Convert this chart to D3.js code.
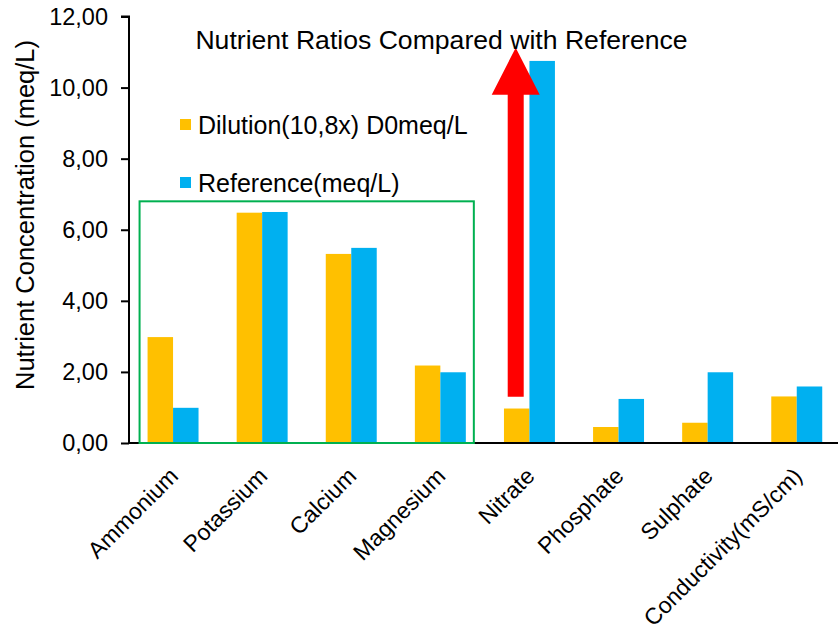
<!DOCTYPE html>
<html>
<head>
<meta charset="utf-8">
<script src="https://cdn.jsdelivr.net/npm/d3@7"></script>
<style>
  html, body { margin: 0; padding: 0; background: #fff; }
  svg { display: block; font-family: "Liberation Sans", Arial, sans-serif; }
</style>
</head>
<body>
<svg id="chart" width="838" height="630"></svg>
<script>
const categories = ["Ammonium", "Potassium", "Calcium", "Magnesium", "Nitrate", "Phosphate", "Sulphate", "Conductivity(mS/cm)"];
const seriesNames = ["Dilution(10,8x) D0meq/L", "Reference(meq/L)"];
const dilutionValues = [2.98, 6.48, 5.32, 2.18, 0.97, 0.45, 0.57, 1.31];
const referenceValues = [0.99, 6.50, 5.49, 1.99, 10.75, 1.24, 1.99, 1.59];
const yTicks = [0, 2, 4, 6, 8, 10, 12];
const chartTitle = "Nutrient Ratios Compared with Reference";
const yAxisTitle = "Nutrient Concentration (meq/L)";
// annotations (data units)
const arrowFromValue = 1.3, arrowHeadBase = 9.8, arrowToValue = 11.12;
const boxTopValue = 6.8;
const boxCategories = ["Ammonium", "Magnesium"];

const colors = ["#FFC000", "#00B0F0"];

const svg = d3.select("#chart");
const y = d3.scaleLinear().domain([0, 12]).range([443, 16.5]);
const x = d3.scaleBand().domain(categories).range([128.5, 841.3]).paddingInner(0.428).paddingOuter(0.214);
const x1 = d3.scaleBand().domain(seriesNames).range([0, x.bandwidth()]);

const rows = categories.map((c, i) => ({cat: c, vals: [dilutionValues[i], referenceValues[i]]}));

// bars
const g = svg.append("g");
rows.forEach(r => {
  r.vals.forEach((v, j) => {
    g.append("rect")
      .attr("x", x(r.cat) + x1(seriesNames[j]))
      .attr("y", y(v))
      .attr("width", x1.bandwidth())
      .attr("height", y(0) - y(v))
      .attr("fill", colors[j]);
  });
});

// y axis
const yAxis = d3.axisLeft(y).tickValues(yTicks).tickSize(8).tickPadding(13)
  .tickFormat(d => d3.format(".2f")(d).replace(".", ","));
const ya = svg.append("g").attr("transform", "translate(129,0)").call(yAxis);
ya.select(".domain").attr("stroke", "#000").attr("stroke-width", 2).attr("d", `M-8,${y(12)}H0V${y(0)}`);
ya.selectAll(".tick line").attr("stroke", "#000").attr("stroke-width", 2);
ya.selectAll(".tick text").attr("font-size", 23.5).attr("fill", "#000").attr("font-family", "Liberation Sans, Arial, sans-serif");

// x axis
const xAxis = d3.axisBottom(x).tickSize(0).tickFormat("");
const xa = svg.append("g").attr("transform", `translate(0,${y(0)})`).call(xAxis);
xa.select(".domain").attr("stroke", "#000").attr("stroke-width", 2).attr("d", "M128,0H838");

// x labels
svg.append("g").selectAll("text").data(categories).join("text")
  .attr("transform", d => `translate(${x(d) + x.bandwidth() / 2 - 5},466) rotate(-45)`)
  .attr("text-anchor", "end")
  .attr("dy", "0.71em")
  .attr("font-size", 23)
  .attr("fill", "#000")
  .text(d => d);

// green box
const bx0 = x(boxCategories[0]) - 8;
const bx1 = x(boxCategories[1]) + x.bandwidth() + 8;
svg.append("rect")
  .attr("x", bx0).attr("y", y(boxTopValue))
  .attr("width", bx1 - bx0).attr("height", y(0) - y(boxTopValue))
  .attr("fill", "none").attr("stroke", "#00B050").attr("stroke-width", 2);

// red arrow
const ax = x("Nitrate") + x1(seriesNames[0]) + x1.bandwidth() / 2 - 1;
const shaftHalf = 8, headHalf = 24;
svg.append("path")
  .attr("d", `M${ax - shaftHalf},${y(arrowFromValue)}V${y(arrowHeadBase)}H${ax - headHalf}L${ax},${y(arrowToValue)}L${ax + headHalf},${y(arrowHeadBase)}H${ax + shaftHalf}V${y(arrowFromValue)}Z`)
  .attr("fill", "#FF0000");

// title
svg.append("text").attr("x", 441.5).attr("y", 49).attr("text-anchor", "middle")
  .attr("font-size", 26.6).attr("fill", "#000").text(chartTitle);

// legend
const legendY = [125, 183];
seriesNames.forEach((s, i) => {
  svg.append("rect").attr("x", 180).attr("y", legendY[i] - 6).attr("width", 11).attr("height", 11).attr("fill", colors[i]);
  svg.append("text").attr("x", 198).attr("y", legendY[i]).attr("dy", "0.35em")
    .attr("font-size", 25).attr("fill", "#000").text(s);
});

// y axis title
svg.append("text").attr("transform", "translate(25,215) rotate(-90)")
  .attr("text-anchor", "middle").attr("dy", "0.35em")
  .attr("font-size", 25.5).attr("fill", "#000").text(yAxisTitle);
</script>
</body>
</html>
